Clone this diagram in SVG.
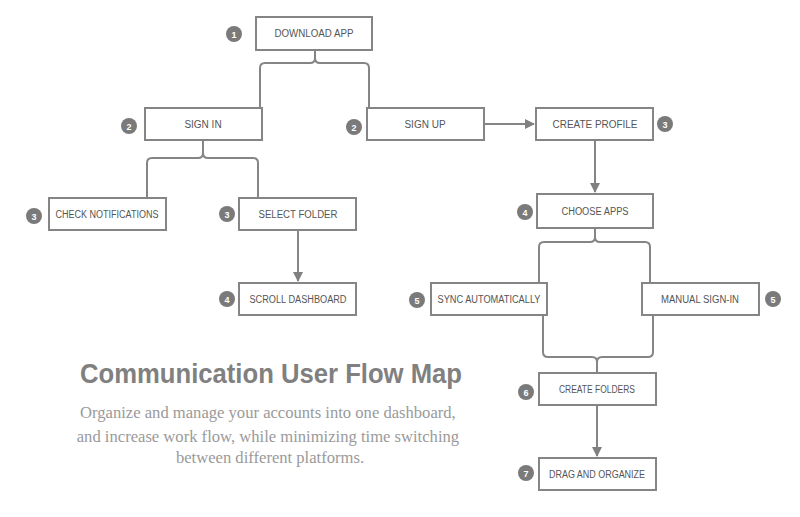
<svg xmlns="http://www.w3.org/2000/svg" width="800" height="517" viewBox="0 0 800 517">
<defs>
<marker id="arr" markerWidth="10" markerHeight="10" refX="9" refY="5" orient="auto" markerUnits="userSpaceOnUse">
<path d="M0,0 L10,5 L0,10 Z" fill="#808080"/>
</marker>
<style>
.box{fill:#fff;stroke:#858585;stroke-width:2}
.lbl{font-family:"Liberation Sans",Arial,sans-serif;font-size:10px;fill:#555;text-anchor:middle}
.bd{fill:#7a7a7a}
.bn{font-family:"Liberation Sans",Arial,sans-serif;font-size:9px;font-weight:bold;fill:#fff;text-anchor:middle}
.con{fill:none;stroke:#858585;stroke-width:2}
</style>
</defs>
<rect width="800" height="517" fill="#fff"/>
<g id="connectors">
<path class="con" d="M315,50 V58 Q315,63 310,63 H265 Q260,63 260,68 V108 M315,58 Q315,63 320,63 H364 Q369,63 369,68 V108"/>
<path class="con" d="M203,140 V153 Q203,158 198,158 H152 Q147,158 147,163 V198 M203,153 Q203,158 208,158 H253 Q258,158 258,163 V198"/>
<path class="con" d="M484,124 H534" marker-end="url(#arr)"/>
<path class="con" d="M595,140 V192" marker-end="url(#arr)"/>
<path class="con" d="M298,230 V281" marker-end="url(#arr)"/>
<path class="con" d="M595,228 V237 Q595,242 590,242 H544 Q539,242 539,247 V283 M595,237 Q595,242 600,242 H645 Q650,242 650,247 V283"/>
<path class="con" d="M543,315 V352 Q543,357 548,357 H592 Q597,357 597,362 V373 M653,315 V352 Q653,357 648,357 H602 Q597,357 597,362"/>
<path class="con" d="M597,405 V456" marker-end="url(#arr)"/>
</g>
<g id="download-app"><rect class="box" x="256" y="17" width="116" height="33"/><text class="lbl" x="314" y="37" textLength="79" lengthAdjust="spacingAndGlyphs">DOWNLOAD APP</text><circle class="bd" cx="234" cy="34" r="8"/><text class="bn" x="234" y="37.5">1</text></g>
<g id="sign-in"><rect class="box" x="145" y="108" width="117" height="32"/><text class="lbl" x="203" y="128">SIGN IN</text><circle class="bd" cx="129" cy="126" r="8"/><text class="bn" x="129" y="129.5">2</text></g>
<g id="sign-up"><rect class="box" x="367" y="108" width="117" height="32"/><text class="lbl" x="425" y="128">SIGN UP</text><circle class="bd" cx="354" cy="127" r="8"/><text class="bn" x="354" y="130.5">2</text></g>
<g id="create-profile"><rect class="box" x="536" y="108" width="117" height="32"/><text class="lbl" x="595" y="128" textLength="85" lengthAdjust="spacingAndGlyphs">CREATE PROFILE</text><circle class="bd" cx="665" cy="124" r="8"/><text class="bn" x="665" y="127.5">3</text></g>
<g id="check-notifications"><rect class="box" x="49" y="198" width="117" height="32"/><text class="lbl" x="107" y="218" textLength="103" lengthAdjust="spacingAndGlyphs">CHECK NOTIFICATIONS</text><circle class="bd" cx="34" cy="216" r="8"/><text class="bn" x="34" y="219.5">3</text></g>
<g id="select-folder"><rect class="box" x="239" y="198" width="117" height="32"/><text class="lbl" x="298" y="218" textLength="79" lengthAdjust="spacingAndGlyphs">SELECT FOLDER</text><circle class="bd" cx="227" cy="214" r="8"/><text class="bn" x="227" y="217.5">3</text></g>
<g id="choose-apps"><rect class="box" x="537" y="194" width="116" height="34"/><text class="lbl" x="595" y="215" textLength="67" lengthAdjust="spacingAndGlyphs">CHOOSE APPS</text><circle class="bd" cx="525" cy="212" r="8"/><text class="bn" x="525" y="215.5">4</text></g>
<g id="scroll-dashboard"><rect class="box" x="239" y="283" width="117" height="32"/><text class="lbl" x="298" y="303" textLength="97" lengthAdjust="spacingAndGlyphs">SCROLL DASHBOARD</text><circle class="bd" cx="227" cy="299" r="8"/><text class="bn" x="227" y="302.5">4</text></g>
<g id="sync-automatically"><rect class="box" x="431" y="283" width="116" height="32"/><text class="lbl" x="489" y="303" textLength="103" lengthAdjust="spacingAndGlyphs">SYNC AUTOMATICALLY</text><circle class="bd" cx="417" cy="300" r="8"/><text class="bn" x="417" y="303.5">5</text></g>
<g id="manual-sign-in"><rect class="box" x="642" y="283" width="117" height="32"/><text class="lbl" x="700" y="303" textLength="78" lengthAdjust="spacingAndGlyphs">MANUAL SIGN-IN</text><circle class="bd" cx="773" cy="299" r="8"/><text class="bn" x="773" y="302.5">5</text></g>
<g id="create-folders"><rect class="box" x="539" y="373" width="117" height="32"/><text class="lbl" x="597" y="393" textLength="76" lengthAdjust="spacingAndGlyphs">CREATE FOLDERS</text><circle class="bd" cx="526" cy="392" r="8"/><text class="bn" x="526" y="395.5">6</text></g>
<g id="drag-and-organize"><rect class="box" x="539" y="458" width="117" height="32"/><text class="lbl" x="597" y="478" textLength="96" lengthAdjust="spacingAndGlyphs">DRAG AND ORGANIZE</text><circle class="bd" cx="526" cy="473" r="8"/><text class="bn" x="526" y="476.5">7</text></g>
<g id="title">
<text x="80" y="383" font-family="'Liberation Sans',Arial,sans-serif" font-size="27" font-weight="bold" fill="#808080" textLength="382" lengthAdjust="spacingAndGlyphs">Communication User Flow Map</text>
<text font-family="'Liberation Serif','Times New Roman',serif" font-size="16.6" fill="#9a9a9a" text-anchor="middle">
<tspan x="270" y="418">Organize and manage your accounts into one dashboard,</tspan>
<tspan x="270" y="442">and increase work flow, while minimizing time switching</tspan>
<tspan x="270" y="463">between different platforms.</tspan>
</text>
</g>
</svg>
